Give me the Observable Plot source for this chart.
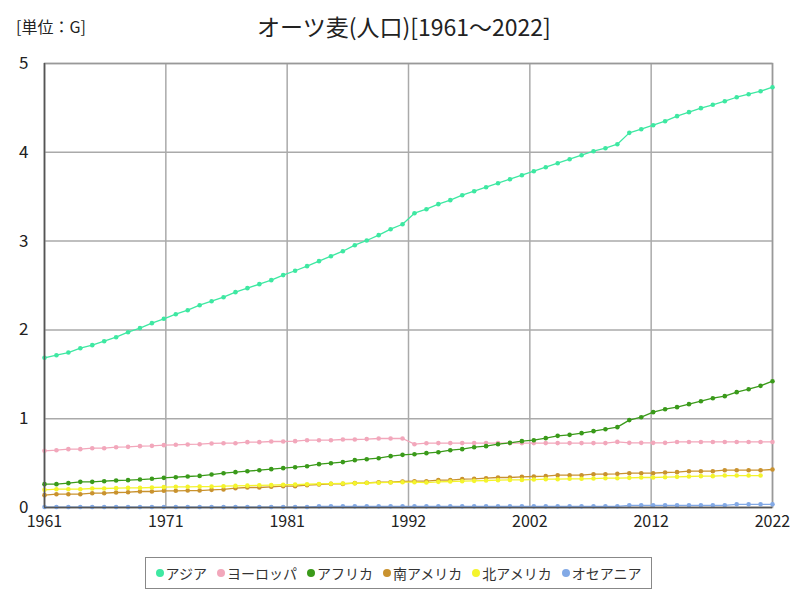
<!DOCTYPE html>
<html>
<head>
<meta charset="utf-8">
<script src="https://cdn.jsdelivr.net/npm/d3@7"></script>
<script src="https://cdn.jsdelivr.net/npm/@observablehq/plot@0.6"></script>
<style>
  html, body { margin: 0; padding: 0; background: #fff; }
  #wrap { position: relative; width: 800px; height: 600px; font-family: "Noto Sans CJK JP", "Noto Sans", sans-serif; }
  #title { position: absolute; top: 9px; left: 0; width: 808px; text-align: center; font-size: 23px; color: #222; }
  #unit { position: absolute; top: 14px; left: 16px; font-size: 16px; color: #222; }
  #chart { position: absolute; top: 0; left: 0; }
  #legend { position: absolute; top: 557px; left: 145px; width: 507px; height: 32px; border: 1px solid #888; box-sizing: border-box; display: flex; align-items: center; justify-content: center; gap: 10px; font-size: 14px; color: #333; white-space: nowrap; }
  .lg-item { display: flex; align-items: center; gap: 2px; white-space: nowrap; flex: none; }
  .lg-dot { width: 8px; height: 8px; border-radius: 50%; display: inline-block; flex: none; }
</style>
</head>
<body>
<div id="wrap">
  <div id="chart"></div>
  <div id="unit">[単位：G]</div>
  <div id="title">オーツ麦(人口)[1961～2022]</div>
  <div id="legend"></div>
</div>
<script>
const seriesNames = ["アジア", "ヨーロッパ", "アフリカ", "南アメリカ", "北アメリカ", "オセアニア"];
const seriesColors = ["#3ee8a2", "#f2a7bb", "#3a9a1a", "#c9922e", "#f4f42c", "#82a9e6"];

const years = d3.range(1961, 2023);
const xTickValues = [1961, 1971.1667, 1981.3333, 1991.5, 2001.6667, 2011.8333, 2022];
const yTickValues = [0, 1, 2, 3, 4, 5];

const asia = [1.686,1.715,1.745,1.794,1.828,1.873,1.918,1.974,2.02,2.076,
  2.125,2.177,2.222,2.278,2.323,2.368,2.425,2.47,2.515,2.56,
  2.617,2.666,2.718,2.774,2.83,2.886,2.954,3.007,3.067,3.134,
  3.19,3.314,3.359,3.416,3.461,3.517,3.562,3.607,3.652,3.697,
  3.742,3.787,3.832,3.877,3.922,3.967,4.012,4.046,4.091,4.219,
  4.26,4.305,4.35,4.407,4.452,4.497,4.535,4.575,4.62,4.654,
  4.688,4.733];
const europe = [0.638,0.645,0.657,0.657,0.668,0.668,0.679,0.683,0.691,0.694,
  0.702,0.706,0.710,0.713,0.721,0.724,0.724,0.736,0.736,0.743,
  0.743,0.747,0.758,0.758,0.758,0.766,0.766,0.770,0.777,0.777,
  0.777,0.713,0.724,0.725,0.725,0.725,0.725,0.725,0.725,0.725,
  0.725,0.725,0.725,0.725,0.725,0.725,0.725,0.725,0.739,0.728,
  0.728,0.728,0.728,0.738,0.738,0.738,0.738,0.738,0.738,0.738,
  0.738,0.738];
const africa = [0.263,0.263,0.274,0.289,0.289,0.296,0.304,0.308,0.315,0.323,
  0.334,0.341,0.349,0.356,0.371,0.386,0.398,0.409,0.420,0.432,
  0.443,0.454,0.465,0.488,0.499,0.511,0.533,0.544,0.555,0.578,
  0.593,0.600,0.612,0.623,0.645,0.657,0.679,0.691,0.713,0.728,
  0.747,0.758,0.781,0.807,0.818,0.837,0.860,0.882,0.905,0.984,
  1.017,1.074,1.107,1.130,1.164,1.197,1.231,1.254,1.299,1.332,
  1.370,1.422];
const southAmerica = [0.139,0.150,0.150,0.150,0.161,0.161,0.169,0.172,0.180,0.180,
  0.188,0.188,0.191,0.191,0.199,0.203,0.218,0.225,0.225,0.233,
  0.240,0.240,0.251,0.259,0.266,0.266,0.274,0.278,0.285,0.285,
  0.293,0.296,0.296,0.308,0.308,0.319,0.323,0.330,0.338,0.338,
  0.345,0.349,0.353,0.364,0.364,0.364,0.375,0.375,0.379,0.386,
  0.386,0.386,0.394,0.398,0.409,0.409,0.409,0.420,0.420,0.420,
  0.420,0.428];
const northAmerica = [0.199,0.206,0.206,0.206,0.214,0.214,0.218,0.221,0.221,0.225,
  0.229,0.233,0.233,0.236,0.236,0.240,0.243,0.246,0.250,0.252,
  0.256,0.258,0.262,0.265,0.268,0.270,0.273,0.276,0.279,0.282,
  0.285,0.285,0.281,0.289,0.293,0.296,0.300,0.304,0.308,0.311,
  0.311,0.315,0.319,0.319,0.323,0.323,0.326,0.330,0.330,0.334,
  0.338,0.338,0.341,0.345,0.349,0.353,0.353,0.360,0.360,0.360,
  0.360];
const oceania = [0.005,0.005,0.005,0.005,0.005,0.005,0.005,0.005,0.005,0.005,
  0.005,0.005,0.005,0.005,0.005,0.005,0.005,0.005,0.005,0.005,
  0.005,0.005,0.005,0.013,0.013,0.013,0.013,0.013,0.013,0.013,
  0.013,0.013,0.013,0.013,0.013,0.013,0.013,0.013,0.013,0.013,
  0.013,0.013,0.013,0.013,0.013,0.013,0.013,0.013,0.013,0.025,
  0.025,0.025,0.025,0.025,0.025,0.025,0.025,0.025,0.036,0.036,
  0.036,0.036];

const seriesValues = [asia, europe, africa, southAmerica, northAmerica, oceania];
const data = [];
seriesValues.forEach((vals, i) => {
  vals.forEach((v, j) => data.push({series: seriesNames[i], year: years[j], value: v}));
});

const fmtX = d => String(Math.round(d));
const fmtY = d => String(d);

const chart = Plot.plot({
  width: 800,
  height: 540,
  marginTop: 63,
  marginBottom: 33,
  marginLeft: 44,
  marginRight: 28,
  style: {fontFamily: "'Noto Sans CJK JP', 'Noto Sans', sans-serif", fontSize: "16px", color: "#222", background: "white"},
  x: {domain: [1961, 2022], label: null},
  y: {domain: [0, 5], label: null},
  color: {domain: seriesNames, range: seriesColors},
  marks: [
    Plot.gridX(xTickValues, {stroke: "#aaa", strokeOpacity: 1, strokeWidth: 1.5}),
    Plot.gridY(yTickValues, {stroke: "#aaa", strokeOpacity: 1, strokeWidth: 1.5}),
    Plot.frame({stroke: "#999", strokeWidth: 1.5}),
    Plot.axisX(xTickValues, {tickFormat: fmtX, tickSize: 0, tickPadding: 8, fontSize: 16, label: null}),
    Plot.axisY(yTickValues, {tickFormat: fmtY, tickSize: 0, tickPadding: 16, fontSize: 17, label: null}),
    Plot.line(data, {x: "year", y: "value", z: "series", stroke: "series", strokeWidth: 1.3}),
    Plot.dot(data, {x: "year", y: "value", fill: "series", r: 2.3}),
    Plot.ruleX([1961], {stroke: "#555", strokeWidth: 1.5}),
    Plot.ruleY([0], {stroke: "#555", strokeWidth: 1.5})
  ]
});
document.getElementById("chart").appendChild(chart);

const legend = document.getElementById("legend");
seriesNames.forEach((name, i) => {
  const item = document.createElement("span");
  item.className = "lg-item";
  const dot = document.createElement("span");
  dot.className = "lg-dot";
  dot.style.background = seriesColors[i];
  item.appendChild(dot);
  item.appendChild(document.createTextNode(name));
  legend.appendChild(item);
});
</script>
</body>
</html>
